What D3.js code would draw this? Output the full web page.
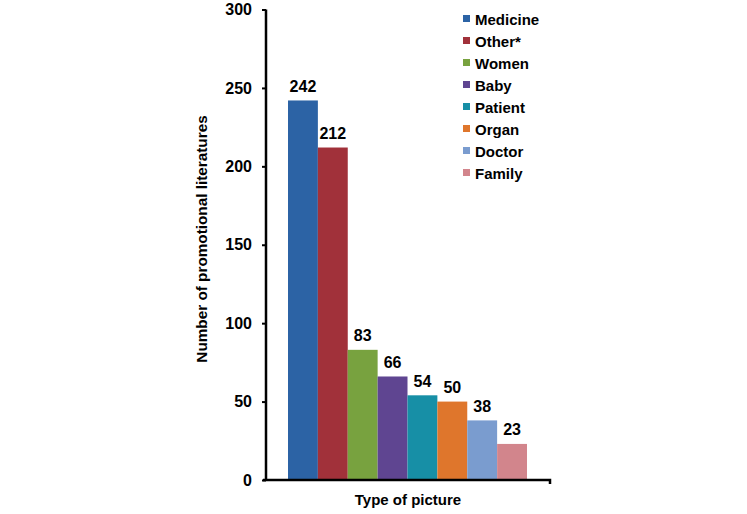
<!DOCTYPE html>
<html><head><meta charset="utf-8">
<script src="https://cdn.jsdelivr.net/npm/d3@7"></script>
<style>body{margin:0;background:#fff}svg{display:block}text{font-family:Arial,"Liberation Sans",sans-serif;font-weight:bold;fill:#000}</style>
</head><body>
<script>
const categories = ["Medicine","Other*","Women","Baby","Patient","Organ","Doctor","Family"];
const values = [242,212,83,66,54,50,38,23];
const colors = ["#2C63A5","#A1313A","#78A23F","#5F4591","#178FA6","#DF762C","#7A9CCF","#D2858C"];
const yTicks = [0,50,100,150,200,250,300];

const W=747,H=514;
const svg=d3.select("body").append("svg").attr("width",W).attr("height",H);
const x0=266,x1=550,y0=480,y1=9.5;
const y=d3.scaleLinear().domain([0,300]).range([y0,y1]);
const xb=d3.scaleBand().domain(categories).range([288,527]).padding(0);

// bars
svg.selectAll("rect.bar").data(values).enter().append("rect")
 .attr("x",(d,i)=>xb(categories[i])).attr("width",xb.bandwidth())
 .attr("y",d=>y(d)).attr("height",d=>y0-y(d)).attr("fill",(d,i)=>colors[i]);
// labels
svg.selectAll("text.lab").data(values).enter().append("text")
 .attr("x",(d,i)=>xb(categories[i])+xb.bandwidth()/2).attr("y",d=>y(d)-8.5)
 .attr("text-anchor","middle").style("font-size","16px").text(d=>d);

// y axis
const ya=svg.append("g").attr("transform",`translate(${x0},0)`)
 .call(d3.axisLeft(y).tickValues(yTicks).tickSize(4).tickPadding(10));
ya.select(".domain").attr("stroke","#000").attr("stroke-width",2.5).attr("d",`M0,${y0}V${y1}`);
ya.selectAll(".tick line").attr("stroke","#000").attr("stroke-width",2);
ya.selectAll(".tick text").style("font-size","16px").style("font-family","Arial,'Liberation Sans',sans-serif").style("font-weight","bold").attr("fill","#000");

// x axis
const xs=d3.scaleBand().domain(["Type of picture"]).range([x0,x1]);
const xa=svg.append("g").attr("transform",`translate(0,${y0})`)
 .call(d3.axisBottom(xs).tickSize(0).tickFormat(""));
xa.select(".domain").attr("stroke","#000").attr("stroke-width",2.5).attr("d",`M${x0-3},0H${x1}V4`);

// axis titles
svg.append("text").attr("x",(x0+x1)/2).attr("y",505).attr("text-anchor","middle").style("font-size","15px").text("Type of picture");
svg.append("text").attr("transform",`translate(207,239) rotate(-90)`).attr("text-anchor","middle").style("font-size","15.3px").text("Number of promotional literatures");

// legend
const lg=svg.append("g");
categories.forEach((c,i)=>{
  const cy=19+i*22;
  lg.append("rect").attr("x",463).attr("y",cy-4).attr("width",7).attr("height",7).attr("fill",colors[i]);
  lg.append("text").attr("x",475).attr("y",cy+6).style("font-size","15px").text(c);
});
</script>
</body></html>
